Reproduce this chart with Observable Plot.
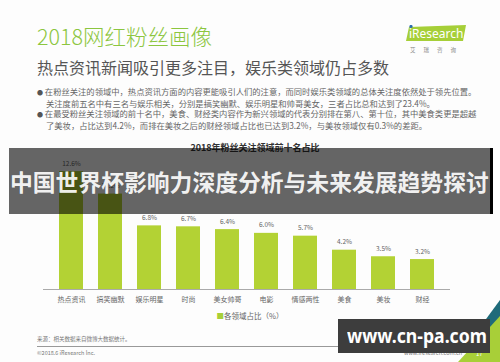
<!DOCTYPE html>
<html>
<head>
<meta charset="utf-8">
<script src="https://cdn.jsdelivr.net/npm/d3@7"></script>
<script src="https://cdn.jsdelivr.net/npm/@observablehq/plot@0.6"></script>
<style>
  html, body { margin: 0; padding: 0; background: #fff; }
  #page { position: relative; width: 500px; height: 362px; overflow: hidden; background: #fdfdfd;
    font-family: "Noto Sans CJK SC", "Noto Sans", sans-serif; }
  .abs { position: absolute; white-space: nowrap; }
  #chart { position: absolute; left: 0; top: 150px; }
</style>
</head>
<body>
<div id="page">
  <div class="abs" style="left:37px;top:23px;font-size:21.5px;color:#8cc63f;font-weight:300;line-height:26px;">2018网红粉丝画像</div>
  <div class="abs" style="left:37px;top:57px;font-size:16px;color:#555;line-height:20px;">热点资讯新闻吸引更多注目，娱乐类领域仍占多数</div>

  <div class="abs" style="left:406px;top:24px;width:60px;height:16px;">
    <svg width="62" height="18"><polygon points="3,2 60,0 57,16 0,16" fill="#a6cf38"/>
      <circle cx="5" cy="1.5" r="1.6" fill="#2a6cb0"/>
      <text x="3" y="13" font-size="12" fill="#fff" font-family="Noto Sans, sans-serif">iResearch</text></svg>
  </div>
  <div class="abs" style="left:410px;top:46px;font-size:5.5px;color:#888;letter-spacing:8px;">艾瑞咨询</div>

  <div class="abs" style="left:37px;top:86px;font-size:8.3px;color:#666;line-height:10px;">
    <div><span style="color:#555;font-size:6px;">●</span>&nbsp;在粉丝关注的领域中，热点资讯方面的内容更能吸引人们的注意，而同时娱乐类领域的总体关注度依然处于领先位置。</div>
    <div style="padding-left:9px;">关注度前五名中有三名与娱乐相关，分别是搞笑幽默、娱乐明星和帅哥美女，三者占比总和达到了23.4%。</div>
    <div><span style="color:#555;font-size:6px;">●</span>&nbsp;在最受粉丝关注领域的前十名中，美食、财经类内容作为新兴领域的代表分别排在第八、第十位，其中美食类更是超越</div>
    <div style="padding-left:9px;">了美妆，占比达到4.2%，而排在美妆之后的财经领域占比也已达到3.2%，与美妆领域仅有0.3%的差距。</div>
  </div>

  <div class="abs" style="left:0;width:510px;text-align:center;top:141px;font-size:9px;font-weight:bold;color:#333;">2018年粉丝关注领域前十名占比</div>

  <div id="chart"></div>

  <div class="abs" style="left:0;width:500px;text-align:center;top:310px;font-size:7.5px;color:#666;"><span style="color:#a8cf38;">■</span>各领域占比（%）</div>

  <div class="abs" style="left:37px;top:335px;font-size:5.5px;color:#777;">来源：相关数据来自微博大数据统计。</div>
  <div class="abs" style="left:37px;top:346px;width:425px;height:1px;background:#999;"></div>
  <div class="abs" style="left:37px;top:349px;font-size:5.5px;color:#777;">©2018.6 iResearch Inc.</div>
  <div class="abs" style="left:404px;top:349px;font-size:5.5px;color:#777;">www.iresearch.com.cn</div>
  <svg class="abs" style="left:0;top:0;" width="500" height="362">
    <polygon points="478,330 500,300 500,345" fill="#1f6b7a"/>
    <polygon points="458,362 500,362 500,316" fill="#a8cf38"/>
    <text x="476" y="356" font-size="6" fill="#fff">17</text>
  </svg>

  <!-- overlay banner -->
  <div class="abs" style="left:9px;top:148px;width:481px;height:66px;background:rgba(0,0,0,0.6);"></div>
  <div class="abs" style="left:490px;top:148px;width:3px;height:66px;background:#000;"></div>
  <div class="abs" style="left:10px;top:166px;font-size:22.8px;font-weight:bold;color:rgba(255,255,255,0.93);line-height:32px;">中国世界杯影响力深度分析与未来发展趋势探讨</div>

  <div class="abs" style="left:338px;top:319px;width:152px;height:34px;background:#3d3d3d;"></div>
  <div class="abs" style="left:347px;top:320px;font-size:19px;font-weight:bold;color:#fff;line-height:32px;font-family:'Noto Sans',sans-serif;transform-origin:0 50%;transform:scaleX(0.93);">www.cn-pa.com</div>
</div>
<script>
const categories = ["热点资讯", "搞笑幽默", "娱乐明星", "时尚", "美女帅哥", "电影", "情感两性", "美食", "美妆", "财经"];
const shares = [12.6, 10.2, 6.8, 6.7, 6.4, 6.0, 5.7, 4.2, 3.5, 3.2];
const labels = ["12.6%", "10.2%", "6.8%", "6.7%", "6.4%", "6.0%", "5.7%", "4.2%", "3.5%", "3.2%"];

const data = categories.map((c, i) => ({category: c, value: shares[i], label: labels[i]}));

const chart = Plot.plot({
  width: 500,
  height: 160,
  marginLeft: 43,
  marginRight: 50,
  marginTop: 8,
  marginBottom: 21,
  style: {background: "transparent", fontFamily: "Noto Sans CJK SC, sans-serif"},
  x: {domain: categories, padding: 0.38, label: null, tickSize: 0, tickPadding: 8},
  y: {domain: [0, 14], axis: null},
  marks: [
    Plot.barY(data, {x: "category", y: "value", fill: "#b3d234"}),
    Plot.ruleY([0], {stroke: "#aaa"}),
    Plot.text(data, {x: "category", y: "value", text: "label", dy: -8, fontSize: 6.5, fill: "#666"}),
    Plot.axisX({tickSize: 0, tickPadding: 8, fontSize: 7, color: "#666", label: null})
  ]
});
document.getElementById("chart").appendChild(chart);
</script>
</body>
</html>
